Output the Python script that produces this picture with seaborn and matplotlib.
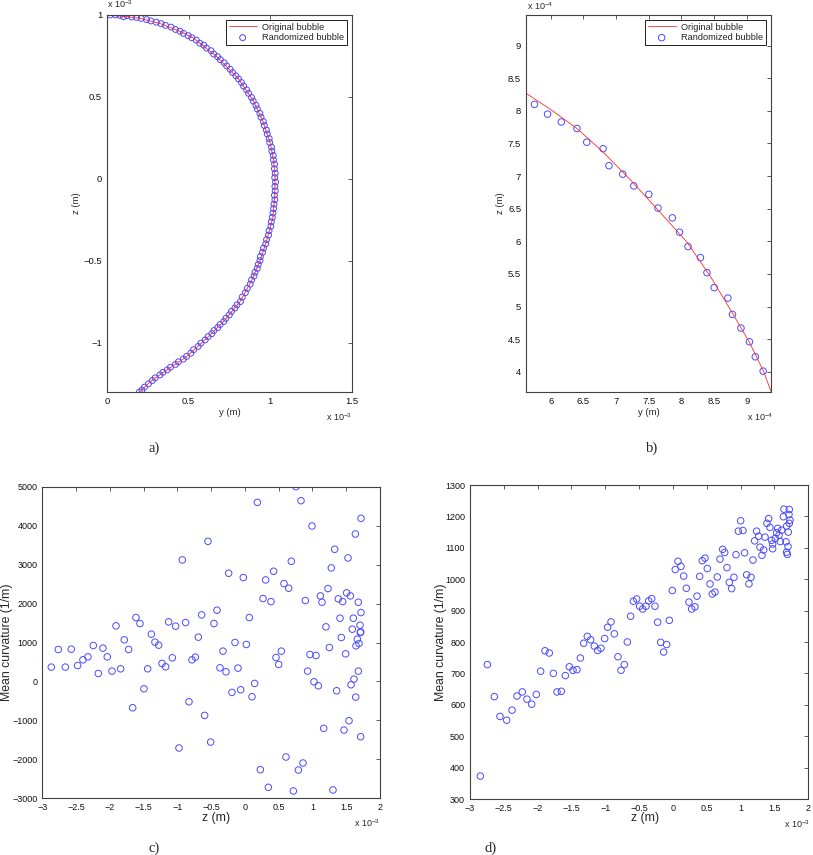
import matplotlib
matplotlib.use("Agg")
import matplotlib.pyplot as plt
from matplotlib.ticker import FuncFormatter
import seaborn as sns

# a) whole bubble profile, y and z in units of 1e-3 m
bubble_y = [0.00, 0.10, 0.20, 0.33, 0.45, 0.53, 0.67, 0.805, 0.897, 0.955, 0.998,
            1.020, 1.029, 1.027, 1.016, 0.979, 0.938, 0.887, 0.815, 0.713, 0.621,
            0.489, 0.367, 0.265, 0.20]
bubble_z = [1.000, 0.992, 0.980, 0.946, 0.899, 0.858, 0.748, 0.610, 0.474, 0.351, 0.221,
            0.116, 0.008, -0.100, -0.235, -0.370, -0.498, -0.616, -0.748, -0.870, -0.962,
            -1.083, -1.165, -1.236, -1.300]

rand_y = [0.020, 0.052, 0.079, 0.101, 0.122, 0.151, 0.181, 0.209, 0.242, 0.268,
          0.302, 0.331, 0.358, 0.392, 0.419, 0.447, 0.468, 0.497, 0.519, 0.547,
          0.568, 0.592, 0.609, 0.637, 0.653, 0.677, 0.694, 0.717, 0.733, 0.754,
          0.769, 0.789, 0.805, 0.823, 0.836, 0.855, 0.867, 0.885, 0.895, 0.912,
          0.920, 0.936, 0.943, 0.957, 0.963, 0.976, 0.981, 0.993, 0.996, 1.007,
          1.009, 1.018, 1.019, 1.026, 1.025, 1.030, 1.027, 1.032, 1.028, 1.030,
          1.025, 1.028, 1.022, 1.020, 1.016, 1.012, 1.006, 1.003, 0.992, 0.989,
          0.977, 0.972, 0.958, 0.952, 0.939, 0.937, 0.926, 0.920, 0.906, 0.900,
          0.885, 0.877, 0.859, 0.847, 0.828, 0.817, 0.796, 0.783, 0.762, 0.749,
          0.728, 0.715, 0.692, 0.678, 0.655, 0.642, 0.619, 0.601, 0.575, 0.558,
          0.530, 0.513, 0.487, 0.467, 0.437, 0.419, 0.388, 0.369, 0.342, 0.324,
          0.295, 0.277, 0.254, 0.229, 0.214, 0.198]
rand_z = [1.000, 1.001, 0.998, 0.990, 0.997, 0.988, 0.985, 0.979, 0.972, 0.964,
          0.956, 0.947, 0.937, 0.926, 0.912, 0.901, 0.888, 0.874, 0.861, 0.847,
          0.828, 0.816, 0.798, 0.782, 0.762, 0.746, 0.728, 0.709, 0.689, 0.669,
          0.649, 0.629, 0.610, 0.588, 0.567, 0.543, 0.522, 0.497, 0.475, 0.449,
          0.427, 0.400, 0.377, 0.350, 0.326, 0.298, 0.274, 0.246, 0.222, 0.194,
          0.169, 0.143, 0.116, 0.090, 0.062, 0.035, 0.008, -0.019, -0.046, -0.073,
          -0.100, -0.127, -0.154, -0.181, -0.208, -0.235, -0.262, -0.289, -0.316, -0.343,
          -0.370, -0.396, -0.422, -0.448, -0.474, -0.498, -0.522, -0.546, -0.570, -0.593,
          -0.616, -0.642, -0.668, -0.694, -0.721, -0.748, -0.768, -0.788, -0.808, -0.829,
          -0.850, -0.870, -0.888, -0.907, -0.925, -0.944, -0.962, -0.982, -1.002, -1.022,
          -1.042, -1.063, -1.083, -1.099, -1.116, -1.132, -1.149, -1.165, -1.180, -1.196,
          -1.214, -1.230, -1.250, -1.270, -1.288, -1.300]

# b) close-up, units of 1e-4 m
zoom_line_y = [5.62, 6.00, 6.40, 6.80, 7.22, 7.65, 8.09, 8.45, 8.78, 9.04, 9.25, 9.37]
zoom_line_z = [8.27, 8.02, 7.73, 7.37, 6.94, 6.47, 5.98, 5.45, 4.90, 4.45, 4.02, 3.70]
zoom_rand_y = [5.75, 5.95, 6.16, 6.40, 6.55, 6.80, 6.89, 7.10, 7.27, 7.50, 7.64, 7.86,
               7.97, 8.10, 8.29, 8.39, 8.50, 8.71, 8.78, 8.91, 9.04, 9.13, 9.25]
zoom_rand_z = [8.10, 7.95, 7.83, 7.73, 7.52, 7.42, 7.16, 7.03, 6.85, 6.72, 6.51, 6.36,
               6.14, 5.92, 5.75, 5.52, 5.29, 5.13, 4.88, 4.67, 4.46, 4.23, 4.01]

# c) mean curvature of the randomized bubble, z in units of 1e-3 m
raw_z = [0.756, 0.184, 0.830, 0.993, 1.719, 1.635, -0.547, -0.927, 1.329, 1.526,
         0.687, 1.279, -0.241, -0.024, 0.425, 0.307, 0.578, 0.648, 1.230, 0.268,
         0.386, 0.894, 1.117, 1.141, 1.383, 1.447, 1.506, 1.561, 1.679, 1.719,
         1.605, 1.408, -1.613, -0.641, -0.414, 0.065,
         -1.554, -1.129, -1.026, -0.878, -0.458, -1.909, 1.200, 1.704, 1.590, 1.709,
         1.714, 1.665, 1.689, 1.645, 1.427, 1.250, 1.491, 0.963, 1.052, 1.679,
         0.928, 1.615, 1.571, 1.023, 1.087, 1.358, 1.640, 1.541, 1.166, 1.467,
         1.714, 0.608, 0.860, 0.228, 0.791, 0.347, 0.717, 1.304, -0.976, -0.507,
         -0.596, -0.828, -0.192, -0.063, 0.105, 0.144, 0.460, 0.500, 0.539, 0.021,
         -0.147, -0.690, -0.325, -0.369, -0.280, -0.103, -0.734, -0.784, -1.075, -1.228,
         -1.174, -1.277, -1.332, -1.386, -1.440, -1.495, -1.662, -1.722, -1.786, -1.840,
         -1.968, -2.038, -2.102, -2.171, -2.245, -2.324, -2.398, -2.477, -2.571, -2.659,
         -2.763, -2.867]
raw_k = [5000, 4598, 4641, 3991, 4188, 3786, 3598, 3120, 3393, 3171,
         3085, 2915, 2778, 2667, 2829, 2607, 2513, 2393, 2385, 2128,
         2051, 2077, 2197, 2034, 2120, 2051, 2274, 2197, 2034, 1769,
         1624, 1624, 1641, 1709, 1829, 1641,
         1487, 1530, 1419, 1513, 1487, 1427, 1402, 1444, 1342, 1256,
         1270, 1085, 974, 915, 1128, 872, 709, 692, 667, 265,
         265, 60, -85, -9, -111, -239, -402, -1009, -1205, -1248,
         -1419, -1940, -2094, -2265, -2274, -2718, -2812, -2786, -1709, -1556,
         -872, -521, -282, -214, -393, -51, 615, 436, 778, 949,
         1000, 1137, 778, 350, 248, 342, 624, 556, 607, 462,
         376, 932, 1009, 1214, 325, -188, -675, 821, 1068, 325,
         265, 632, 855, 205, 923, 632, 556, 410, 829, 368,
         821, 368]

# d) mean curvature of the smoothed bubble, z in units of 1e-3 m
fit_z = [1.640, 1.719, 1.631, 1.714, 1.729, 1.414, 1.000, 1.389, 1.719, 1.680,
         1.547, 1.606, 1.433, 0.966, 1.034, 1.236, 1.704, 1.532, 1.266, 1.360,
         1.567, 1.512, 1.458, 1.207, 1.586, 1.670, 1.473, 1.286, 1.340, 1.700,
         1.473, 0.734, 0.764, 1.680, 1.690, 1.315, 0.931, 1.059, 1.182, 0.695,
         0.473, 0.433, 0.074, 0.118, 0.034, 0.507, 0.798, 0.158, 0.394, 0.655,
         0.901, 1.089, 1.153, 0.833, 0.547, 1.123, 0.867, 0.197, -0.010, 0.621,
         0.581, 0.355, 0.236, 0.276, 0.325, -0.315, -0.537, -0.586, -0.360, -0.493,
         -0.399, -0.266, -0.448, -0.626, -0.227, -0.054, -0.916, -0.966, -0.867, -1.010,
         -0.675, -1.217, -1.163, -1.113, -1.064, -0.813, -0.182, -0.094, -0.138, -0.719,
         -0.768,
         -2.847, -2.744, -2.640, -2.557, -2.458, -2.379, -2.305, -2.227, -2.158, -2.089,
         -2.020, -1.956, -1.892, -1.828, -1.768, -1.714, -1.650, -1.591, -1.532, -1.478,
         -1.419, -1.369, -1.320, -1.266]
fit_k = [1223, 1222, 1199, 1206, 1188, 1193, 1186, 1178, 1178, 1169,
         1162, 1156, 1165, 1153, 1155, 1153, 1150, 1148, 1137, 1134,
         1140, 1130, 1124, 1122, 1120, 1119, 1112, 1102, 1093, 1104,
         1097, 1095, 1085, 1086, 1079, 1076, 1078, 1084, 1061, 1064,
         1067, 1059, 1057, 1041, 1031, 1034, 1037, 1010, 1009, 1007,
         1006, 1014, 1006, 990, 985, 985, 970, 971, 964, 959,
         953, 946, 927, 905, 912, 938, 937, 930, 931, 914,
         914, 914, 905, 882, 863, 869, 864, 847, 826, 811,
         800, 807, 787, 773, 780, 753, 799, 792, 768, 728,
         710,
         373, 728, 626, 563, 551, 583, 628, 641, 618, 602,
         633, 707, 772, 765, 700, 641, 643, 693, 721, 710,
         712, 749, 796, 818]

sns.set_theme(style="white")
plt.rcParams["font.family"] = ["Liberation Sans", "DejaVu Sans"]
plt.rcParams["mathtext.default"] = "regular"

BLUE = "#4a4aff"
RED = "#ff2a2a"
EDGE = "#404040"
W, H = 813, 855

fig = plt.figure(figsize=(W / 100, H / 100), dpi=100)


def axes_px(left, top, right, bottom):
    return fig.add_axes([left / W, 1 - bottom / H, (right - left) / W, (bottom - top) / H])


def style(ax, fs):
    for s in ax.spines.values():
        s.set_color(EDGE)
        s.set_linewidth(0.8)
    ax.tick_params(direction="in", top=True, right=True, length=3, width=0.6,
                   color=EDGE, labelsize=fs, labelcolor="#111111", pad=3.5)
    fmt = FuncFormatter(lambda v, p: f"{v:g}".replace("-", "\u2212"))
    ax.xaxis.set_major_formatter(fmt)
    ax.yaxis.set_major_formatter(fmt)


def bubble_legend(ax):
    ax.legend(loc="upper right", bbox_to_anchor=(0.98, 0.987), borderaxespad=0,
              fontsize=6.7, frameon=True, fancybox=False, framealpha=1,
              edgecolor="#202020", borderpad=0.3, labelspacing=0.15,
              handlelength=3.0, handletextpad=0.6).get_frame().set_linewidth(0.7)


# ---- a)
ax_a = axes_px(107, 15, 352, 392)
sns.lineplot(x=bubble_y, y=bubble_z, sort=False, estimator=None, color=RED,
             lw=0.6, label="Original bubble", ax=ax_a)
sns.scatterplot(x=rand_y, y=rand_z, marker="o", s=18, color=BLUE, facecolor="none",
                edgecolor=BLUE, linewidth=0.7, label="Randomized bubble", ax=ax_a)
ax_a.set_xlim(0, 1.5)
ax_a.set_ylim(-1.3, 1.0)
ax_a.set_xticks([0, 0.5, 1, 1.5])
ax_a.set_yticks([-1, -0.5, 0, 0.5, 1])
style(ax_a, 6.8)
ax_a.set_xlabel("y (m)", fontsize=6.8)
ax_a.set_ylabel("z (m)", fontsize=6.8)
ax_a.xaxis.set_label_coords(0.5, -0.042)
ax_a.yaxis.set_label_coords(-0.106, 0.5)
ax_a.text(1.0, -0.052, r"x 10$^{-3}$", transform=ax_a.transAxes, ha="right", va="top", fontsize=6.5)
ax_a.text(0.0, 1.012, r"x 10$^{-3}$", transform=ax_a.transAxes, ha="left", va="bottom", fontsize=6.5)
bubble_legend(ax_a)

# ---- b)
ax_b = axes_px(526, 15, 771, 392)
sns.lineplot(x=zoom_line_y, y=zoom_line_z, sort=False, estimator=None, color=RED,
             lw=0.6, label="Original bubble", ax=ax_b)
sns.scatterplot(x=zoom_rand_y, y=zoom_rand_z, marker="o", s=22, color=BLUE, facecolor="none",
                edgecolor=BLUE, linewidth=0.7, label="Randomized bubble", ax=ax_b)
ax_b.set_xlim(5.62, 9.37)
ax_b.set_ylim(3.69, 9.47)
ax_b.set_xticks([6, 6.5, 7, 7.5, 8, 8.5, 9])
ax_b.set_yticks([4, 4.5, 5, 5.5, 6, 6.5, 7, 7.5, 8, 8.5, 9])
style(ax_b, 6.8)
ax_b.set_xlabel("y (m)", fontsize=6.8)
ax_b.set_ylabel("z (m)", fontsize=6.8)
ax_b.xaxis.set_label_coords(0.5, -0.042)
ax_b.yaxis.set_label_coords(-0.086, 0.5)
ax_b.text(1.008, -0.052, r"x 10$^{-4}$", transform=ax_b.transAxes, ha="right", va="top", fontsize=6.5)
ax_b.text(0.004, 1.008, r"x 10$^{-4}$", transform=ax_b.transAxes, ha="left", va="bottom", fontsize=6.5)
bubble_legend(ax_b)

# ---- c)
ax_c = axes_px(42.3, 486.7, 380, 798.3)
sns.scatterplot(x=raw_z, y=raw_k, marker="o", s=22, color=BLUE, facecolor="none",
                edgecolor=BLUE, linewidth=0.7, ax=ax_c)
ax_c.set_xlim(-3, 2)
ax_c.set_ylim(-3000, 5000)
ax_c.set_xticks([-3, -2.5, -2, -1.5, -1, -0.5, 0, 0.5, 1, 1.5, 2])
ax_c.set_yticks(range(-3000, 5001, 1000))
style(ax_c, 6.5)
ax_c.set_xlabel("z (m)", fontsize=8.8)
ax_c.set_ylabel("Mean curvature (1/m)", fontsize=8.8)
ax_c.xaxis.set_label_coords(0.514, -0.043)
ax_c.yaxis.set_label_coords(-0.086, 0.5)
ax_c.text(1.0, -0.062, r"x 10$^{-3}$", transform=ax_c.transAxes, ha="right", va="top", fontsize=6.5)

# ---- d)
ax_d = axes_px(470, 485, 808.3, 799)
sns.scatterplot(x=fit_z, y=fit_k, marker="o", s=22, color=BLUE, facecolor="none",
                edgecolor=BLUE, linewidth=0.7, ax=ax_d)
ax_d.set_xlim(-3, 2)
ax_d.set_ylim(300, 1300)
ax_d.set_xticks([-3, -2.5, -2, -1.5, -1, -0.5, 0, 0.5, 1, 1.5, 2])
ax_d.set_yticks(range(300, 1301, 100))
style(ax_d, 6.5)
ax_d.set_xlabel("z (m)", fontsize=8.8)
ax_d.set_ylabel("Mean curvature (1/m)", fontsize=8.8)
ax_d.xaxis.set_label_coords(0.516, -0.042)
ax_d.yaxis.set_label_coords(-0.069, 0.5)
ax_d.text(1.005, -0.060, r"x 10$^{-3}$", transform=ax_d.transAxes, ha="right", va="top", fontsize=6.5)

# panel letters
for lab, (px, py) in {"a)": (154, 448), "b)": (652, 448), "c)": (154, 848), "d)": (491, 848)}.items():
    fig.text(px / W, 1 - py / H, lab, ha="center", va="center", fontsize=10.5,
             family=["Liberation Serif", "DejaVu Serif"])

fig.savefig("out.png", dpi=100)
